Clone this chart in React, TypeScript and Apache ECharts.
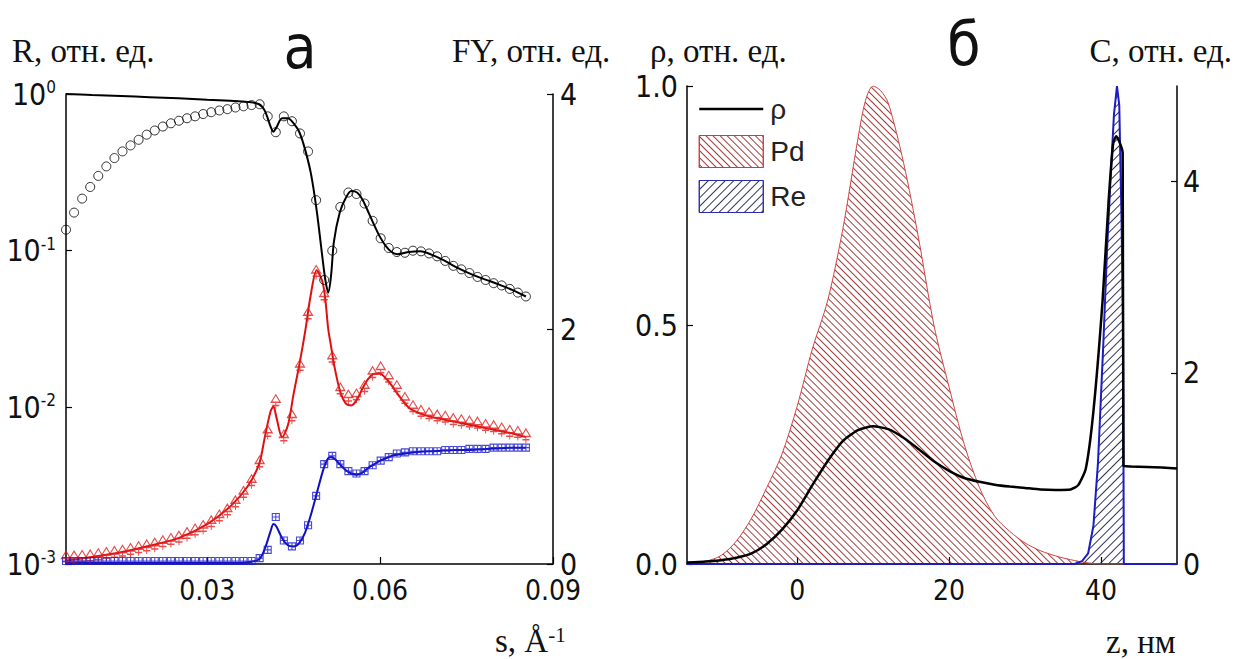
import React, { useEffect, useRef } from "react";
import * as echarts from "echarts";

// ---------- Panel а : reflectivity and fluorescence yield ----------
const fitS = [0.0055, 0.010, 0.015, 0.020, 0.025, 0.030, 0.034, 0.037, 0.039, 0.040,
  0.041, 0.0415, 0.042, 0.043, 0.044, 0.045, 0.046, 0.047, 0.048, 0.049,
  0.050, 0.0505, 0.051, 0.0515, 0.052, 0.053, 0.054, 0.055, 0.056, 0.057,
  0.058, 0.059, 0.060, 0.061, 0.062, 0.063, 0.065, 0.067, 0.069, 0.071,
  0.073, 0.075, 0.077, 0.079, 0.081, 0.083, 0.0853];
const fitR = [1.0, 0.985, 0.97, 0.955, 0.94, 0.92, 0.905, 0.89, 0.86, 0.78,
  0.62, 0.575, 0.61, 0.70, 0.70, 0.65, 0.57, 0.44, 0.31, 0.18,
  0.09, 0.065, 0.054, 0.07, 0.115, 0.175, 0.215, 0.24, 0.235, 0.21,
  0.175, 0.145, 0.122, 0.107, 0.098, 0.095, 0.098, 0.099, 0.094, 0.087,
  0.079, 0.073, 0.068, 0.064, 0.060, 0.056, 0.051];
const fitPd = [0.03, 0.06, 0.10, 0.155, 0.22, 0.34, 0.49, 0.66, 0.85, 1.08,
  1.3, 1.34, 1.25, 1.08, 1.18, 1.45, 1.7, 1.98, 2.3, 2.5,
  2.4, 2.25, 2.0, 1.85, 1.7, 1.48, 1.37, 1.35, 1.4, 1.5,
  1.58, 1.62, 1.62, 1.58, 1.52, 1.45, 1.33, 1.28, 1.25, 1.23,
  1.21, 1.19, 1.17, 1.15, 1.13, 1.11, 1.08];
const fitRe = [0.01, 0.01, 0.01, 0.01, 0.01, 0.01, 0.01, 0.015, 0.04, 0.13,
  0.28, 0.34, 0.32, 0.22, 0.16, 0.15, 0.18, 0.27, 0.42, 0.6,
  0.78, 0.85, 0.9, 0.91, 0.9, 0.85, 0.8, 0.77, 0.76, 0.78,
  0.82, 0.85, 0.88, 0.9, 0.92, 0.93, 0.945, 0.955, 0.96, 0.965,
  0.97, 0.97, 0.975, 0.98, 0.985, 0.99, 0.99];

const expS = [0.0055, 0.0069, 0.0083, 0.0097, 0.0111, 0.0125, 0.0139, 0.0153, 0.0167, 0.0181,
  0.0195, 0.0209, 0.0223, 0.0237, 0.0251, 0.0265, 0.0279, 0.0293, 0.0307, 0.0321,
  0.0335, 0.0349, 0.0363, 0.0377, 0.0391, 0.0405, 0.0419, 0.0433, 0.0447, 0.0461,
  0.0475, 0.0489, 0.0503, 0.0517, 0.0531, 0.0545, 0.0559, 0.0573, 0.0587, 0.0601,
  0.0615, 0.0629, 0.0643, 0.0657, 0.0671, 0.0685, 0.0699, 0.0713, 0.0727, 0.0741,
  0.0755, 0.0769, 0.0783, 0.0797, 0.0811, 0.0825, 0.0839, 0.0853];
const expR = [0.136, 0.175, 0.215, 0.255, 0.30, 0.345, 0.39, 0.43, 0.47, 0.51,
  0.55, 0.585, 0.62, 0.65, 0.675, 0.70, 0.72, 0.745, 0.765, 0.785,
  0.80, 0.82, 0.835, 0.85, 0.86, 0.72, 0.57, 0.72, 0.67, 0.56,
  0.43, 0.21, 0.065, 0.10, 0.19, 0.235, 0.23, 0.20, 0.155, 0.12,
  0.104, 0.098, 0.097, 0.10, 0.099, 0.096, 0.092, 0.086, 0.080, 0.076,
  0.072, 0.068, 0.065, 0.062, 0.060, 0.057, 0.054, 0.051];
const expPd = [0.05, 0.05, 0.055, 0.06, 0.07, 0.08, 0.09, 0.10, 0.115, 0.13,
  0.145, 0.16, 0.18, 0.20, 0.22, 0.25, 0.28, 0.31, 0.35, 0.40,
  0.45, 0.52, 0.60, 0.70, 0.86, 1.12, 1.38, 1.08, 1.25, 1.68,
  2.12, 2.48, 2.28, 1.75, 1.48, 1.42, 1.43, 1.50, 1.62, 1.66,
  1.58, 1.50, 1.40, 1.33, 1.29, 1.27, 1.25, 1.24, 1.22, 1.21,
  1.20, 1.19, 1.17, 1.16, 1.14, 1.12, 1.11, 1.09];
const expRe = [0.025, 0.025, 0.025, 0.025, 0.025, 0.025, 0.025, 0.025, 0.025, 0.025,
  0.025, 0.025, 0.025, 0.025, 0.025, 0.025, 0.025, 0.025, 0.025, 0.025,
  0.025, 0.025, 0.025, 0.025, 0.05, 0.12, 0.40, 0.20, 0.15, 0.20,
  0.33, 0.58, 0.85, 0.92, 0.85, 0.79, 0.77, 0.79, 0.84, 0.88,
  0.91, 0.94, 0.95, 0.96, 0.96, 0.96, 0.96, 0.97, 0.97, 0.97,
  0.98, 0.98, 0.98, 0.99, 0.99, 0.99, 0.99, 0.99];

const sTicks = [0.03, 0.06, 0.09];
const fyTicks = [0, 2, 4];

// ---------- Panel б : density and concentration profiles ----------
const zRho = [-14.5, -12, -10, -8, -6, -4, -2, 0, 2, 4,
  6, 8, 10, 12, 14, 16, 18, 20, 22, 24,
  26, 28, 30, 32, 34, 36, 37, 38, 39, 40.2,
  41, 41.6, 42, 42.5, 42.85, 42.95, 44, 46, 48, 50];
const rho = [0.003, 0.005, 0.008, 0.013, 0.022, 0.042, 0.072, 0.112, 0.165, 0.215,
  0.257, 0.28, 0.288, 0.282, 0.264, 0.24, 0.215, 0.195, 0.18, 0.172,
  0.166, 0.162, 0.159, 0.156, 0.155, 0.156, 0.165, 0.20, 0.32, 0.55,
  0.76, 0.88, 0.895, 0.88, 0.86, 0.205, 0.204, 0.203, 0.202, 0.2];
const zPd = [-14.5, -12, -10, -8, -6, -4, -2, 0, 2, 4,
  6, 8, 9, 10, 11, 12, 14, 16, 18, 20,
  22, 24, 26, 28, 30, 32, 34, 36, 38, 40, 50];
const cPd = [0.01, 0.03, 0.09, 0.24, 0.48, 0.8, 1.15, 1.65, 2.25, 2.75,
  3.5, 4.45, 4.85, 5.0, 4.95, 4.82, 4.2, 3.4, 2.5, 1.85,
  1.25, 0.8, 0.5, 0.34, 0.22, 0.14, 0.085, 0.045, 0.015, 0, 0];
const zRe = [-14.5, 36.5, 37.5, 38.3, 39, 39.6, 40.3, 40.8, 41.3, 41.7, 42.1, 42.4, 42.7, 42.9, 43.0, 50];
const cRe = [0, 0, 0.03, 0.11, 0.4, 1.06, 2.3, 3.3, 4.1, 4.7, 5.0, 4.8, 3.6, 2.5, 0, 0];

const zTicks = [0, 20, 40];
const cTicks = [0, 2, 4];

const NARROW = "'Liberation Sans Narrow', 'Arial Narrow', 'DejaVu Sans Condensed', sans-serif";
const SANS = "'Liberation Sans', Arial, sans-serif";
const SERIF = "'Liberation Serif', 'Times New Roman', serif";

const zip = (xs: number[], ys: number[]) => xs.map((x, i) => [x, ys[i]]);

const pdDecal = {
  symbol: "rect",
  symbolSize: 1,
  color: "rgba(150,40,40,0.9)",
  dashArrayX: [1, 0],
  dashArrayY: [1, 4],
  rotation: Math.PI / 4,
};
const reDecal = {
  symbol: "rect",
  symbolSize: 1,
  color: "rgba(30,30,70,0.9)",
  dashArrayX: [1, 0],
  dashArrayY: [1, 5],
  rotation: -Math.PI / 4,
};

const axisLineStyle = { color: "#000", width: 1.5 };
const tickLabel = { fontSize: 28, fontFamily: NARROW, color: "#111" };

export default function App() {
  const ref = useRef<HTMLDivElement>(null);
  useEffect(() => {
    if (!ref.current) return;
    const chart = echarts.init(ref.current, undefined, { renderer: "svg" });
    const option: any = {
      animation: false,
      backgroundColor: "#ffffff",
      grid: [
        { left: 66, top: 94, width: 487, height: 470 },
        { left: 687, top: 86, width: 490, height: 478 },
      ],
      xAxis: [
        {
          type: "value", gridIndex: 0, min: 0.0055, max: 0.09,
          axisLine: { show: true, onZero: false, lineStyle: axisLineStyle },
          axisTick: { show: true, inside: true, length: 7, customValues: sTicks, lineStyle: { color: "#000", width: 1.2 } },
          axisLabel: { ...tickLabel, customValues: sTicks, margin: 14, lineHeight: 24, formatter: (v: number) => v.toFixed(2) },
          splitLine: { show: false },
        },
        {
          type: "value", gridIndex: 1, min: -14.5, max: 50,
          axisLine: { show: true, onZero: false, lineStyle: axisLineStyle },
          axisTick: { show: true, inside: true, length: 7, customValues: zTicks, lineStyle: { color: "#000", width: 1.2 } },
          axisLabel: { ...tickLabel, customValues: zTicks, margin: 14, lineHeight: 24, formatter: (v: number) => String(v) },
          splitLine: { show: false },
        },
      ],
      yAxis: [
        {
          type: "log", logBase: 10, gridIndex: 0, min: 0.001, max: 1, position: "left",
          axisLine: { show: true, onZero: false, lineStyle: axisLineStyle },
          axisTick: { show: true, inside: true, length: 6, lineStyle: { color: "#000", width: 1.2 } },
          minorTick: { show: false },
          axisLabel: {
            ...tickLabel, fontSize: 30, margin: 10,
            formatter: (v: number) => "10{sup|" + Math.round(Math.log10(v)) + "}",
            rich: { sup: { fontSize: 17, fontFamily: NARROW, color: "#111", verticalAlign: "top", padding: [0, 0, 14, 0] } },
          },
          splitLine: { show: false },
        },
        {
          type: "value", gridIndex: 0, min: 0, max: 4, position: "right",
          axisLine: { show: true, onZero: false, lineStyle: axisLineStyle },
          axisTick: { show: true, inside: true, length: 6, customValues: fyTicks, lineStyle: { color: "#000", width: 1.2 } },
          axisLabel: { ...tickLabel, fontSize: 30, customValues: fyTicks, margin: 7, lineHeight: 22 },
          splitLine: { show: false },
        },
        {
          type: "value", gridIndex: 1, min: 0, max: 1, interval: 0.5, position: "left",
          axisLine: { show: true, onZero: false, lineStyle: axisLineStyle },
          axisTick: { show: true, inside: true, length: 6, lineStyle: { color: "#000", width: 1.2 } },
          axisLabel: { ...tickLabel, fontSize: 30, margin: 9, lineHeight: 22, formatter: (v: number) => v.toFixed(1) },
          splitLine: { show: false },
        },
        {
          type: "value", gridIndex: 1, min: 0, max: 5, position: "right",
          axisLine: { show: true, onZero: false, lineStyle: axisLineStyle },
          axisTick: { show: true, inside: true, length: 6, customValues: cTicks, lineStyle: { color: "#000", width: 1.2 } },
          axisLabel: { ...tickLabel, fontSize: 30, customValues: cTicks, margin: 6, lineHeight: 22 },
          splitLine: { show: false },
        },
      ],
      legend: {
        orient: "vertical", left: 698, top: 95, padding: 0,
        itemWidth: 64, itemHeight: 32, itemGap: 12,
        textStyle: { fontSize: 28, fontFamily: SANS, color: "#222", padding: [0, 0, 0, 2] },
        data: [
          {
            name: "ρ",
            itemStyle: { color: "rgba(0,0,0,0)", borderColor: "rgba(0,0,0,0)", borderWidth: 0 },
            lineStyle: { color: "#000", width: 2.5 },
          },
          { name: "Pd", icon: "rect", itemStyle: { color: "rgba(255,255,255,0)", borderColor: "#cc3b3b", borderWidth: 1, decal: pdDecal } },
          { name: "Re", icon: "rect", itemStyle: { color: "rgba(255,255,255,0)", borderColor: "#2a2ab0", borderWidth: 1, decal: reDecal } },
        ],
      },
      series: [
        {
          name: "R fit", type: "line", xAxisIndex: 0, yAxisIndex: 0, data: zip(fitS, fitR),
          symbol: "none", smooth: 0.3, lineStyle: { color: "#000", width: 2 }, z: 3,
        },
        {
          name: "R exp", type: "scatter", xAxisIndex: 0, yAxisIndex: 0, data: zip(expS, expR),
          symbol: "circle", symbolSize: 9,
          itemStyle: { color: "rgba(255,255,255,0)", borderColor: "#000", borderWidth: 1 }, z: 4,
        },
        {
          name: "FY Pd fit", type: "line", xAxisIndex: 0, yAxisIndex: 1, data: zip(fitS, fitPd),
          symbol: "none", smooth: 0.3, lineStyle: { color: "#e01010", width: 2 }, z: 3,
        },
        {
          name: "FY Pd exp", type: "scatter", xAxisIndex: 0, yAxisIndex: 1, data: zip(expS, expPd),
          symbol: "path://M5,0 L10,8 L0,8 Z M5,8 L5,15 M1,11.5 L9,11.5", symbolSize: [9, 14],
          itemStyle: { color: "rgba(255,255,255,0)", borderColor: "#e02020", borderWidth: 1.2 }, z: 4,
        },
        {
          name: "FY Re fit", type: "line", xAxisIndex: 0, yAxisIndex: 1, data: zip(fitS, fitRe),
          symbol: "none", smooth: 0.3, lineStyle: { color: "#1010c0", width: 2 }, z: 3,
        },
        {
          name: "FY Re exp", type: "scatter", xAxisIndex: 0, yAxisIndex: 1, data: zip(expS, expRe),
          symbol: "path://M0,0 L10,0 L10,10 L0,10 Z M5,0 L5,10 M0,5 L10,5", symbolSize: 7,
          itemStyle: { color: "rgba(255,255,255,0)", borderColor: "#1a1ad0", borderWidth: 1.1 }, z: 4,
        },
        {
          name: "Pd", type: "line", xAxisIndex: 1, yAxisIndex: 3, data: zip(zPd, cPd),
          symbol: "none", smooth: 0.3,
          lineStyle: { color: "#d04545", width: 1 },
          itemStyle: { color: "#d04545", decal: pdDecal },
          areaStyle: { color: "rgba(255,255,255,0)", opacity: 1, decal: pdDecal }, z: 2,
        },
        {
          name: "Re", type: "line", xAxisIndex: 1, yAxisIndex: 3, data: zip(zRe, cRe),
          symbol: "none",
          lineStyle: { color: "#1c1cc0", width: 2 },
          itemStyle: { color: "#1c1cc0", decal: reDecal },
          areaStyle: { color: "rgba(255,255,255,0)", opacity: 1, decal: reDecal }, z: 2,
        },
        {
          name: "ρ", type: "line", xAxisIndex: 1, yAxisIndex: 2, data: zip(zRho, rho),
          symbol: "none", smooth: 0.2, lineStyle: { color: "#000", width: 2.5 },
          itemStyle: { color: "#000" }, z: 5,
        },
      ],
      graphic: [
        { type: "text", x: 12, y: 51, style: { text: "R, отн. ед.", fontSize: 33, fontFamily: SERIF, fill: "#111", align: "left", verticalAlign: "middle", textAlign: "left", textVerticalAlign: "middle" } },
        { type: "text", x: 300, y: 47, style: { text: "а", fontSize: 60, fontFamily: NARROW, fill: "#111", align: "center", verticalAlign: "middle", textAlign: "center", textVerticalAlign: "middle" } },
        { type: "text", x: 452, y: 51, style: { text: "FY, отн. ед.", fontSize: 33, fontFamily: SERIF, fill: "#111", align: "left", verticalAlign: "middle", textAlign: "left", textVerticalAlign: "middle" } },
        {
          type: "text", x: 495, y: 641,
          style: {
            text: "s, Å{sup|-1}", fontSize: 33, fontFamily: SERIF, fill: "#111",
            align: "left", verticalAlign: "middle", textAlign: "left", textVerticalAlign: "middle",
            rich: { sup: { fontSize: 21, fontFamily: SERIF, fill: "#111", verticalAlign: "top", padding: [0, 0, 12, 0] } },
          },
        },
        { type: "text", x: 650, y: 51, style: { text: "ρ, отн. ед.", fontSize: 33, fontFamily: SERIF, fill: "#111", align: "left", verticalAlign: "middle", textAlign: "left", textVerticalAlign: "middle" } },
        { type: "text", x: 964, y: 44, style: { text: "б", fontSize: 60, fontFamily: NARROW, fill: "#111", align: "center", verticalAlign: "middle", textAlign: "center", textVerticalAlign: "middle" } },
        { type: "text", x: 1232, y: 51, style: { text: "C, отн. ед.", fontSize: 33, fontFamily: SERIF, fill: "#111", align: "right", verticalAlign: "middle", textAlign: "right", textVerticalAlign: "middle" } },
        { type: "text", x: 1106, y: 642, style: { text: "z, нм", fontSize: 33, fontFamily: SERIF, fill: "#111", align: "left", verticalAlign: "middle", textAlign: "left", textVerticalAlign: "middle" } },
      ],
    };
    chart.setOption(option);
    return () => chart.dispose();
  }, []);
  return (
    <div
      ref={ref}
      style={{ position: "fixed", left: 0, top: 0, width: 1236, height: 659, background: "#fff" }}
    />
  );
}
